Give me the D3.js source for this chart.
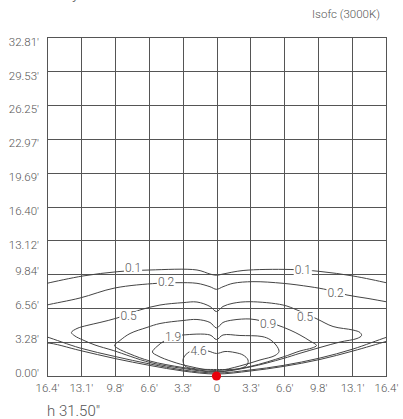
<!DOCTYPE html>
<html><head><meta charset="utf-8">
<script src="https://cdn.jsdelivr.net/npm/d3@7"></script>
<style>
html,body{margin:0;padding:0;background:#fff;}
svg{display:block;}
text{font-family:Roboto,"Liberation Sans",Arial,sans-serif;font-weight:300;fill:#555;}
</style></head>
<body><svg id="chart" width="403" height="419"></svg>
<script>
// ---- data (feet) ----
const xTickValues = [-16.405,-13.124,-9.843,-6.562,-3.281,0,3.281,6.562,9.843,13.124,16.405];
const xTickLabels = ["16.4'","13.1'","9.8'","6.6'","3.3'","0","3.3'","6.6'","9.8'","13.1'","16.4'"];
const yTickValues = [0,3.281,6.562,9.843,13.124,16.405,19.686,22.967,26.248,29.529,32.81];
const yTickLabels = ["0.00'","3.28'","6.56'","9.84'","13.12'","16.40'","19.69'","22.97'","26.25'","29.53'","32.81'"];

const c01Upper = [[-17.09,8.80],[-16.41,8.97],[-12.92,9.68],[-9.54,10.10],[-6.44,10.26],[-1.89,10.26],[-0.63,9.87],[0,9.75],[0.63,9.87],[2.57,10.21],[7.12,10.31],[10.02,10.12],[13.21,9.68],[16.41,9.03],[17.09,8.86]];
const c01Lower = [[-17.09,3.00],[-16.41,3.19],[-13.21,2.47],[-9.83,1.69],[-6.44,1.02],[-3.24,0.48],[0,0.19],[3.24,0.48],[6.44,0.92],[10.02,1.60],[13.21,2.42],[16.41,3.34],[17.09,3.53]];
const c02Upper = [[-17.09,6.68],[-16.41,6.87],[-13.21,7.55],[-9.83,8.52],[-5.76,8.97],[-3.82,9.03],[-1.89,8.97],[-0.63,8.64],[0,8.39],[0.63,8.64],[1.60,8.97],[3.53,9.13],[6.44,8.97],[9.05,8.64],[10.79,8.33],[12.63,7.84],[14.57,7.52],[16.41,7.19],[17.09,7.07]];
const c02Lower = [[-17.09,3.97],[-16.41,3.78],[-13.21,2.71],[-9.83,1.89],[-6.44,1.16],[-3.24,0.58],[0,0.29],[3.24,0.58],[6.44,1.02],[10.02,1.74],[13.21,2.61],[16.41,3.73],[17.09,3.92]];
const c05 = [[-14.04,4.21],[-13.50,4.60],[-12.54,4.89],[-11.28,5.18],[-9.63,5.61],[-7.41,6.39],[-5.47,6.87],[-3.24,7.10],[-1.89,7.16],[-0.63,6.73],[0,6.24],[0.63,6.73],[1.60,7.04],[3.24,7.19],[6.44,6.87],[7.79,6.39],[9.73,5.52],[11.28,4.79],[13.21,4.45],[13.89,4.21],[14.04,3.92],[13.60,3.63],[11.96,3.29],[10.02,2.76],[8.08,2.20],[6.44,1.69],[3.24,0.87],[0,0.39],[-3.24,0.73],[-6.44,1.31],[-10.0,2.47],[-11.76,3.00],[-12.92,3.48],[-13.70,3.87]];
const c09 = [[-9.87,2.95],[-9.34,3.44],[-8.37,4.11],[-6.73,4.70],[-5.47,5.08],[-3.24,5.37],[-1.89,5.47],[-0.63,5.18],[0,4.65],[0.63,5.18],[1.60,5.42],[3.24,5.52],[4.40,5.32],[5.86,4.94],[7.11,4.45],[8.08,3.97],[9.05,3.39],[9.68,2.95],[9.24,2.71],[8.08,2.42],[6.44,1.84],[3.24,0.92],[0,0.44],[-3.24,0.82],[-6.44,1.45],[-8.37,2.13],[-9.53,2.66]];
const c19 = [[-6.20,2.32],[-5.76,2.86],[-4.99,3.44],[-4.21,3.82],[-3.24,3.97],[-0.63,3.97],[0,3.53],[0.63,3.97],[2.27,3.92],[4.40,3.82],[5.18,3.53],[5.76,3.00],[6.05,2.37],[5.66,1.98],[4.21,1.55],[2.27,0.97],[0,0.53],[-2.57,0.92],[-4.31,1.40],[-5.66,1.94]];
const c46 = [[-2.57,2.37],[-1.69,2.47],[-0.82,2.42],[0,2.18],[0.82,2.37],[1.79,2.27],[2.57,2.03],[3.05,1.55],[2.95,1.06],[2.27,0.73],[0,0.63],[-2.27,0.73],[-3.05,0.97],[-3.24,1.55],[-3.00,2.03]];

const labelText = ["0.1","0.1","0.2","0.2","0.5","0.5","0.9","1.9","4.6"];
const labelX    = [-8.08, 8.35, -4.89, 11.52, -8.52, 8.57, 4.99, -4.21, -1.74];
const labelY    = [10.50, 10.26, 9.15, 8.08, 5.81, 5.76, 5.10, 3.82, 2.42];

const sourcePoint = [0, 0];

// ---- drawing ----
const svg = d3.select("#chart");
const L = 47, R = 386, T = 37, B = 376;
const x = d3.scaleLinear().domain([-16.405, 16.405]).range([L, R]);
const y = d3.scaleLinear().domain([0, 32.81]).range([B, T]);

svg.append("defs").append("clipPath").attr("id","plotclip")
  .append("rect").attr("x",L).attr("y",T).attr("width",R-L).attr("height",B-T);

// grid + axes
const xAxis = d3.axisBottom(x).tickValues(xTickValues).tickSize(-(B-T)).tickPadding(6)
  .tickFormat((d,i)=>xTickLabels[i]);
const gx = svg.append("g").attr("transform",`translate(0,${B})`).call(xAxis);
const yAxis = d3.axisLeft(y).tickValues(yTickValues).tickSize(-(R-L)).tickPadding(8)
  .tickFormat((d,i)=>yTickLabels[i]);
const gy = svg.append("g").attr("transform",`translate(${L},0)`).call(yAxis);
[gx,gy].forEach(g=>{
  g.select(".domain").remove();
  g.selectAll(".tick line").attr("stroke","#555").attr("stroke-width",1).attr("shape-rendering","crispEdges");
  g.selectAll(".tick text").style("font-size","11.5px").style("font-family","Roboto, 'Liberation Sans', Arial, sans-serif").style("font-weight","300").attr("fill","#555");
});
gx.selectAll(".tick text").attr("dy","0.9em");
gy.selectAll(".tick text").attr("y", d => d > 11 ? 4.5 : -3);

svg.append("rect").attr("x",L).attr("y",T).attr("width",R-L).attr("height",B-T)
  .attr("fill","none").attr("stroke","#555").attr("stroke-width",1).attr("shape-rendering","crispEdges");

const plot = svg.append("g").attr("clip-path","url(#plotclip)");
const openLine = d3.line().x(d=>x(d[0])).y(d=>y(d[1])).curve(d3.curveCatmullRom.alpha(0.5));
const closedLine = d3.line().x(d=>x(d[0])).y(d=>y(d[1])).curve(d3.curveCatmullRomClosed.alpha(0.5));

[c01Upper,c01Lower,c02Upper,c02Lower].forEach(c=>{
  plot.append("path").attr("d",openLine(c)).attr("fill","none").attr("stroke","#444").attr("stroke-width",1);
});
[c05,c09,c19,c46].forEach(c=>{
  plot.append("path").attr("d",closedLine(c)).attr("fill","none").attr("stroke","#444").attr("stroke-width",1);
});

const lblG = plot.selectAll("g.lbl").data(labelText).enter().append("g").attr("class","lbl");
const lblT = lblG.append("text")
  .attr("x",(d,i)=>x(labelX[i])).attr("y",(d,i)=>y(labelY[i]))
  .attr("dy","0.36em").attr("text-anchor","middle")
  .style("font-size","12px")
  .text(d=>d);
lblT.each(function(){
  const bb = this.getBBox();
  d3.select(this.parentNode).insert("rect","text")
    .attr("x",bb.x-1).attr("y",bb.y+1.5).attr("width",bb.width+2).attr("height",bb.height-3)
    .attr("fill","#fff");
});

svg.append("circle").attr("cx",x(sourcePoint[0])).attr("cy",y(sourcePoint[1])).attr("r",4.6).attr("fill","#e8000b");

svg.append("text").attr("x",380).attr("y",18).attr("text-anchor","end").style("font-size","11.5px").text("Isofc (3000K)");
svg.append("text").attr("x",47).attr("y",416).style("font-size","15px").text('h 31.50"');
svg.append("text").attr("x",72).attr("y",-1).style("font-size","15px").text("y");
</script></body></html>
